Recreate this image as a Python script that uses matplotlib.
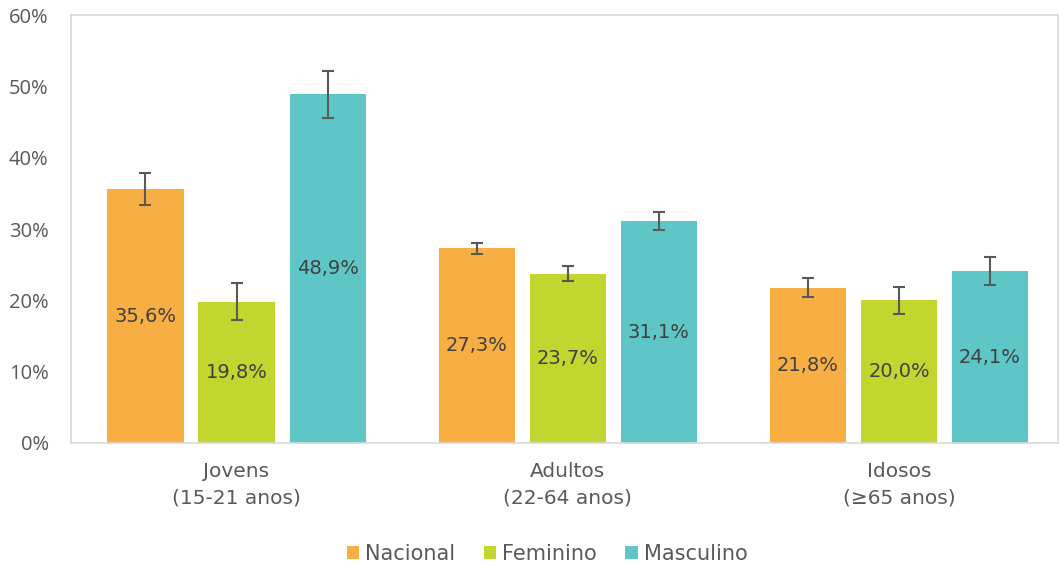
import numpy as np
import matplotlib
matplotlib.use("Agg")
import matplotlib.pyplot as plt

plt.rcParams['font.family'] = ['DejaVu Sans']

# Data
groups = ["Jovens\n(15-21 anos)", "Adultos\n(22-64 anos)", "Idosos\n(≥65 anos)"]
series = ["Nacional", "Feminino", "Masculino"]
values = {
    "Nacional": [35.6, 27.3, 21.8],
    "Feminino": [19.8, 23.7, 20.0],
    "Masculino": [48.9, 31.1, 24.1],
}
errors = {
    "Nacional": [2.2, 0.8, 1.35],
    "Feminino": [2.6, 1.05, 1.9],
    "Masculino": [3.3, 1.25, 1.95],
}
colors = {"Nacional": "#F7AE43", "Feminino": "#C3D52F", "Masculino": "#5FC6C7"}

fig = plt.figure(figsize=(10.59, 5.67), dpi=100)
ax = fig.add_axes([0.067, 0.2187, 0.932, 0.7548])

x = np.arange(len(groups))
width = 0.23
offsets = [-0.275, 0, 0.275]

for s, off in zip(series, offsets):
    ax.bar(x + off, values[s], width, color=colors[s], label=s,
           yerr=errors[s], capsize=4.5,
           error_kw=dict(ecolor="#595959", elinewidth=1.5, capthick=1.5))
    for xi, v in zip(x + off, values[s]):
        ax.text(xi, v / 2, f"{v:.1f}%".replace(".", ","), ha="center", va="center",
                fontsize=14, color="#404040")

ax.set_xlim(-0.50, 2.48)
ax.set_ylim(0, 60)
ax.set_yticks(range(0, 61, 10))
ax.set_yticklabels([f"{t}%" for t in range(0, 61, 10)], family="Open Sans", fontsize=14.5)
ax.set_xticks(x)
ax.set_xticklabels(groups, linespacing=1.45, fontsize=14.5)
ax.tick_params(length=0, colors="#595959")
ax.tick_params(axis="x", pad=14)
ax.tick_params(axis="y", pad=16)

for sp in ax.spines.values():
    sp.set_color("#D9D9D9")
    sp.set_linewidth(1.2)

leg = ax.legend(loc="upper center", bbox_to_anchor=(0.4825, -0.216), ncol=3,
                frameon=False, fontsize=15, handlelength=0.6, handleheight=0.6,
                handletextpad=0.3, columnspacing=1.35, borderaxespad=0)
for t in leg.get_texts():
    t.set_color("#595959")

fig.savefig("out.png", dpi=100)
